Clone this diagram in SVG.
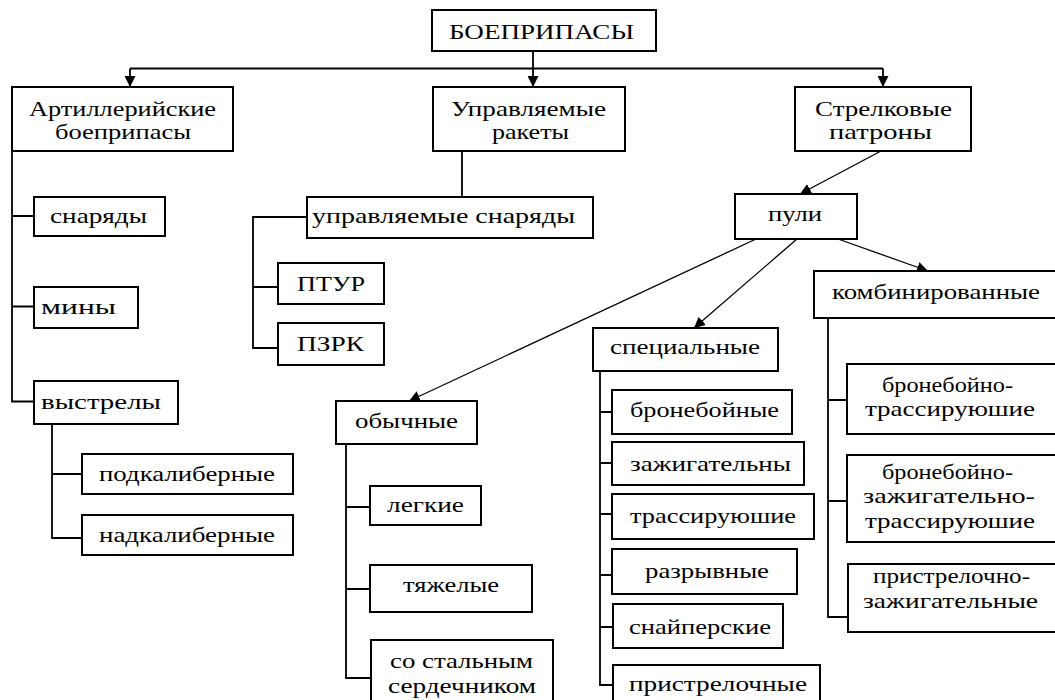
<svg xmlns="http://www.w3.org/2000/svg" width="1055" height="700" viewBox="0 0 1055 700" font-family="Liberation Serif, DejaVu Serif, serif">
<style>
rect{fill:#fff;stroke:#000;stroke-width:2}
text{font-family:Liberation Serif, DejaVu Serif, serif;font-size:21px;fill:#000}
.c{fill:none;stroke:#000;stroke-width:1.8}
.d{fill:none;stroke:#000;stroke-width:1.3}
</style>
<defs>
<marker id="ah" viewBox="0 0 10 10" refX="10" refY="5" markerWidth="11" markerHeight="11" markerUnits="userSpaceOnUse" orient="auto">
<path d="M0,0 L10,5 L0,10 z" fill="#000"/>
</marker>
</defs>
<rect x="0" y="0" width="1055" height="700" style="fill:#fff;stroke:none"/>
<g id="connectors">
<path class="c" d="M533,51 V87" marker-end="url(#ah)"/>
<path class="c" d="M130,68.5 H883"/>
<path class="c" d="M130,68.5 V87" marker-end="url(#ah)"/>
<path class="c" d="M883,68.5 V87" marker-end="url(#ah)"/>
<path class="c" d="M12,151 V401.5 H34 M12,216 H34 M12,306.5 H34"/>
<path class="c" d="M52,424 V538 H82 M52,474 H82"/>
<path class="c" d="M462,151 V197"/>
<path class="c" d="M307,217 H253 V348 H278 M253,287 H278"/>
<path class="d" d="M881,151 L800,194" marker-end="url(#ah)"/>
<path class="d" d="M756,239 L409,401" marker-end="url(#ah)"/>
<path class="d" d="M797,239 L694,328" marker-end="url(#ah)"/>
<path class="d" d="M838,239 L928,271" marker-end="url(#ah)"/>
<path class="c" d="M346,444 V678 H371 M346,507 H370 M346,589 H370"/>
<path class="c" d="M600,371 V685 H613 M600,412 H612 M600,463 H612 M600,514 H612 M600,575 H612 M600,627 H613"/>
<path class="c" d="M828,318 V617 H848 M828,400 H847 M828,501 H847"/>
</g>
<g id="boepripasy"><rect x="432" y="10" width="224" height="41"/><text x="449" y="39" textLength="185" lengthAdjust="spacingAndGlyphs">БОЕПРИПАСЫ</text></g>
<g id="artill"><rect x="12" y="87" width="221" height="64"/><text x="29" y="116" textLength="187" lengthAdjust="spacingAndGlyphs">Артиллерийские</text><text x="55" y="139" textLength="136" lengthAdjust="spacingAndGlyphs">боеприпасы</text></g>
<g id="uprav"><rect x="433" y="87" width="192" height="64"/><text x="451" y="116" textLength="155" lengthAdjust="spacingAndGlyphs">Управляемые</text><text x="492" y="139" textLength="77" lengthAdjust="spacingAndGlyphs">ракеты</text></g>
<g id="strelk"><rect x="795" y="87" width="176" height="64"/><text x="815" y="116" textLength="137" lengthAdjust="spacingAndGlyphs">Стрелковые</text><text x="829" y="139" textLength="103" lengthAdjust="spacingAndGlyphs">патроны</text></g>
<g id="snaryady"><rect x="34" y="197" width="131" height="39"/><text x="50" y="223" textLength="97" lengthAdjust="spacingAndGlyphs">снаряды</text></g>
<g id="upr-snar"><rect x="307" y="197" width="286" height="41"/><text x="312" y="223" textLength="263" lengthAdjust="spacingAndGlyphs">управляемые снаряды</text></g>
<g id="puli"><rect x="735" y="194" width="122" height="45"/><text x="768" y="221" textLength="54" lengthAdjust="spacingAndGlyphs">пули</text></g>
<g id="miny"><rect x="34" y="287" width="104" height="41"/><text x="41" y="314" textLength="75" lengthAdjust="spacingAndGlyphs">мины</text></g>
<g id="ptur"><rect x="278" y="263" width="106" height="41"/><text x="297" y="291" textLength="68" lengthAdjust="spacingAndGlyphs">ПТУР</text></g>
<g id="pzrk"><rect x="278" y="323" width="106" height="42"/><text x="297" y="351" textLength="67" lengthAdjust="spacingAndGlyphs">ПЗРК</text></g>
<g id="vystrely"><rect x="34" y="381" width="144" height="43"/><text x="41" y="409" textLength="120" lengthAdjust="spacingAndGlyphs">выстрелы</text></g>
<g id="obychnye"><rect x="336" y="401" width="141" height="43"/><text x="355" y="428" textLength="103" lengthAdjust="spacingAndGlyphs">обычные</text></g>
<g id="podkal"><rect x="82" y="454" width="211" height="40"/><text x="99" y="481" textLength="176" lengthAdjust="spacingAndGlyphs">подкалиберные</text></g>
<g id="nadkal"><rect x="82" y="515" width="211" height="40"/><text x="99" y="542" textLength="176" lengthAdjust="spacingAndGlyphs">надкалиберные</text></g>
<g id="kombin"><rect x="814" y="271" width="250" height="47"/><text x="832" y="299" textLength="208" lengthAdjust="spacingAndGlyphs">комбинированные</text></g>
<g id="special"><rect x="593" y="328" width="185" height="43"/><text x="610" y="354" textLength="150" lengthAdjust="spacingAndGlyphs">специальные</text></g>
<g id="bronebojnye"><rect x="612" y="390" width="180" height="44"/><text x="630" y="417" textLength="149" lengthAdjust="spacingAndGlyphs">бронебойные</text></g>
<g id="zazhig"><rect x="612" y="442" width="192" height="43"/><text x="630" y="471" textLength="161" lengthAdjust="spacingAndGlyphs">зажигательны</text></g>
<g id="trass"><rect x="612" y="494" width="202" height="45"/><text x="630" y="523" textLength="166" lengthAdjust="spacingAndGlyphs">трассируюшие</text></g>
<g id="razryv"><rect x="612" y="549" width="185" height="45"/><text x="645" y="578" textLength="124" lengthAdjust="spacingAndGlyphs">разрывные</text></g>
<g id="snajper"><rect x="613" y="604" width="170" height="44"/><text x="629" y="634" textLength="142" lengthAdjust="spacingAndGlyphs">снайперские</text></g>
<g id="pristrel"><rect x="613" y="665" width="207" height="45"/><text x="629" y="691" textLength="178" lengthAdjust="spacingAndGlyphs">пристрелочные</text></g>
<g id="legkie"><rect x="370" y="486" width="111" height="39"/><text x="387" y="512" textLength="77" lengthAdjust="spacingAndGlyphs">легкие</text></g>
<g id="tyazh"><rect x="370" y="565" width="162" height="47"/><text x="403" y="592" textLength="96" lengthAdjust="spacingAndGlyphs">тяжелые</text></g>
<g id="so-stal"><rect x="371" y="640" width="182" height="70"/><text x="390" y="668" textLength="143" lengthAdjust="spacingAndGlyphs">со стальным</text><text x="388" y="693" textLength="148" lengthAdjust="spacingAndGlyphs">сердечником</text></g>
<g id="bt"><rect x="847" y="364" width="215" height="70"/><text x="882" y="392" textLength="131" lengthAdjust="spacingAndGlyphs">бронебойно-</text><text x="865" y="416" textLength="170" lengthAdjust="spacingAndGlyphs">трассируюшие</text></g>
<g id="bzt"><rect x="847" y="455" width="215" height="87"/><text x="882" y="479" textLength="131" lengthAdjust="spacingAndGlyphs">бронебойно-</text><text x="863" y="503" textLength="172" lengthAdjust="spacingAndGlyphs">зажигательно-</text><text x="865" y="528" textLength="170" lengthAdjust="spacingAndGlyphs">трассируюшие</text></g>
<g id="pz"><rect x="848" y="564" width="215" height="68"/><text x="873" y="583" textLength="157" lengthAdjust="spacingAndGlyphs">пристрелочно-</text><text x="863" y="608" textLength="175" lengthAdjust="spacingAndGlyphs">зажигательные</text></g>
</svg>
